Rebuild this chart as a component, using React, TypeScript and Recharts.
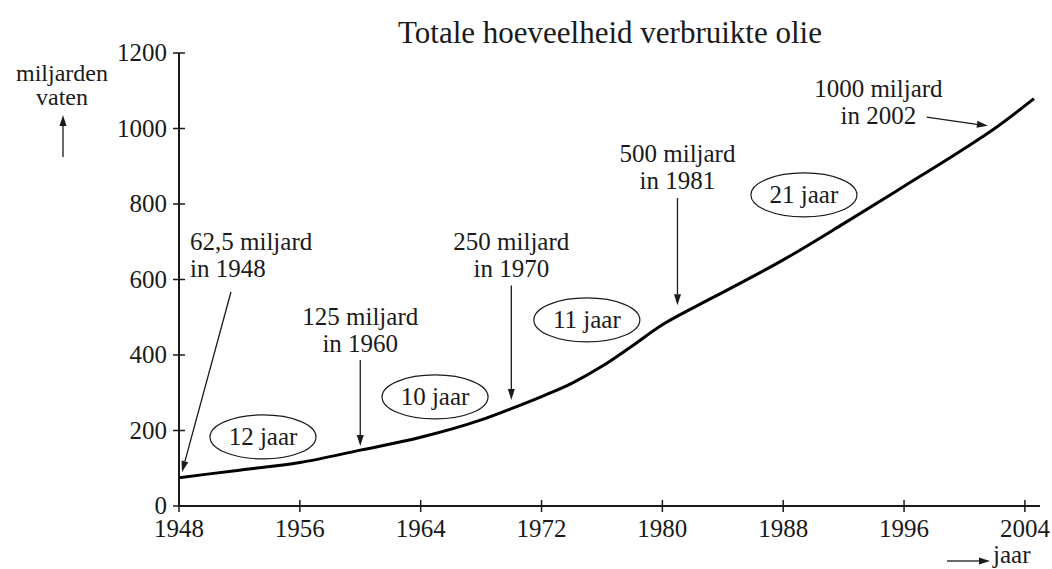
import React from "react";
import {
  LineChart,
  Line,
  XAxis,
  YAxis,
  ReferenceDot,
  ReferenceLine,
} from "recharts";

// total oil consumed (billion barrels)
const years = [1948, 1952, 1956, 1960, 1964, 1968, 1970, 1972, 1974, 1976, 1978, 1980, 1982, 1984, 1988, 1992, 1996, 2000, 2002, 2004.6];
const values = [75, 95, 115, 148, 182, 228, 258, 290, 325, 370, 424, 480, 524, 566, 652, 748, 847, 947, 1000, 1079];

const xTicks = [1948, 1956, 1964, 1972, 1980, 1988, 1996, 2004];
const yTicks = [0, 200, 400, 600, 800, 1000, 1200];

// text notes: anchor year/value, lines
const noteYears = [1948.73, 1960, 1970, 1981, 1994.3];
const noteValues = [678, 479, 678, 911, 1083];
const noteLines = [
  ["62,5 miljard", "in 1948"],
  ["125 miljard", "in 1960"],
  ["250 miljard", "in 1970"],
  ["500 miljard", "in 1981"],
  ["1000 miljard", "in 2002"],
];
const noteAnchors = ["start", "middle", "middle", "middle", "middle"];

// arrows from note to curve
const arrowFrom = [
  [1951.44, 567],
  [1960, 387],
  [1970, 584],
  [1981, 816],
  [1997.5, 1030],
];
const arrowTo = [
  [1948.2, 90],
  [1960, 159],
  [1970, 281],
  [1981, 532],
  [2001.55, 1007],
];

// ellipses with period lengths
const spanLabels = ["12 jaar", "10 jaar", "11 jaar", "21 jaar"];
const spanYears = [1953.56, 1964.95, 1975.0, 1989.37];
const spanValues = [183, 289, 493, 824];

const chartData = years.map((y, i) => ({ year: y, oil: values[i] }));

const FONT = "'Liberation Serif', 'Times New Roman', serif";
const INK = "#1a1a1a";

function arrowPath(x1: number, y1: number, x2: number, y2: number) {
  const ang = Math.atan2(y2 - y1, x2 - x1);
  const L = 11;
  const W = 3.5;
  const bx = x2 - L * Math.cos(ang);
  const by = y2 - L * Math.sin(ang);
  const pts = `${x2},${y2} ${bx + W * Math.sin(ang)},${by - W * Math.cos(ang)} ${bx - W * Math.sin(ang)},${by + W * Math.cos(ang)}`;
  return (
    <g>
      <line x1={x1} y1={y1} x2={bx} y2={by} stroke={INK} strokeWidth={1.3} />
      <polygon points={pts} fill={INK} />
    </g>
  );
}

const XTick = (p: any) => (
  <g>
    <line x1={p.x} x2={p.x} y1={p.y - 6} y2={p.y + 6} stroke={INK} strokeWidth={1.5} />
    <text x={p.x} y={p.y + 31} textAnchor="middle" fontFamily={FONT} fontSize={25} fill={INK}>
      {p.payload.value}
    </text>
  </g>
);

const YTick = (p: any) => (
  <g>
    <line x1={p.x - 6} x2={p.x + 6} y1={p.y} y2={p.y} stroke={INK} strokeWidth={1.5} />
    <text x={p.x - 12} y={p.y + 8} textAnchor="end" fontFamily={FONT} fontSize={25} fill={INK}>
      {p.payload.value}
    </text>
  </g>
);

export default function App() {
  return (
    <div style={{ position: "absolute", left: 0, top: 0, width: 1052, height: 569, background: "#fff", fontFamily: FONT }}>
      <LineChart
        width={1052}
        height={569}
        data={chartData}
        margin={{ top: 53, right: 12, bottom: 23, left: 119 }}
      >
        <XAxis
          dataKey="year"
          type="number"
          domain={[1948, 2005]}
          ticks={xTicks}
          tick={<XTick />}
          tickLine={false}
          tickSize={0}
          tickMargin={0}
          height={40}
          axisLine={{ stroke: INK, strokeWidth: 2 }}
          allowDataOverflow
        />
        <YAxis
          type="number"
          domain={[0, 1200]}
          ticks={yTicks}
          tick={<YTick />}
          tickLine={false}
          tickSize={0}
          tickMargin={0}
          width={60}
          axisLine={{ stroke: INK, strokeWidth: 2 }}
        />
        <Line
          type="monotone"
          dataKey="oil"
          stroke="#000"
          strokeWidth={3}
          dot={false}
          isAnimationActive={false}
        />
        {arrowFrom.map((f, i) => (
          <ReferenceLine
            key={"ar" + i}
            segment={[
              { x: f[0], y: f[1] },
              { x: arrowTo[i][0], y: arrowTo[i][1] },
            ]}
            ifOverflow="visible"
            shape={(p: any) => arrowPath(p.x1, p.y1, p.x2, p.y2)}
          />
        ))}
        {noteLines.map((lines, i) => (
          <ReferenceDot
            key={"nt" + i}
            x={noteYears[i]}
            y={noteValues[i]}
            r={0}
            ifOverflow="visible"
            shape={(p: any) => (
              <text x={p.cx} y={p.cy} textAnchor={noteAnchors[i] as any} fontFamily={FONT} fontSize={25} fill={INK}>
                {lines.map((t, j) => (
                  <tspan key={j} x={p.cx} dy={j === 0 ? 0 : 27}>
                    {t}
                  </tspan>
                ))}
              </text>
            )}
          />
        ))}
        {spanLabels.map((s, i) => (
          <ReferenceDot
            key={"sp" + i}
            x={spanYears[i]}
            y={spanValues[i]}
            r={0}
            ifOverflow="visible"
            shape={(p: any) => (
              <g>
                <ellipse cx={p.cx} cy={p.cy} rx={53} ry={22} fill="#fff" stroke={INK} strokeWidth={1.2} />
                <text x={p.cx} y={p.cy + 8} textAnchor="middle" fontFamily={FONT} fontSize={25} fill={INK}>
                  {s}
                </text>
              </g>
            )}
          />
        ))}
      </LineChart>
      <svg
        width={1052}
        height={569}
        style={{ position: "absolute", left: 0, top: 0, pointerEvents: "none" }}
      >
        <text x={610} y={43} textAnchor="middle" fontFamily={FONT} fontSize={31} fill={INK}>
          Totale hoeveelheid verbruikte olie
        </text>
        <text x={62} y={81} textAnchor="middle" fontFamily={FONT} fontSize={24} fill={INK}>
          miljarden
        </text>
        <text x={62} y={105} textAnchor="middle" fontFamily={FONT} fontSize={24} fill={INK}>
          vaten
        </text>
        {arrowPath(63, 157, 63, 115)}
        {arrowPath(947, 561, 990, 561)}
        <text x={993} y={563} fontFamily={FONT} fontSize={25} fill={INK}>
          jaar
        </text>
      </svg>
    </div>
  );
}
